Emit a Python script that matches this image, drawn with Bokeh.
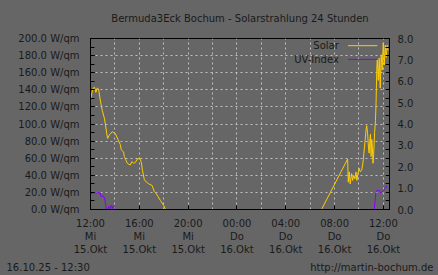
from bokeh.plotting import figure
from bokeh.layouts import column, row
from bokeh.models import Range1d, LinearAxis, FixedTicker, Label
from bokeh.core.properties import value
from bokeh.embed import file_html
from bokeh.resources import INLINE

title_text = "Bermuda3Eck Bochum - Solarstrahlung 24 Stunden"

# hours after Mi 15.Okt 12:00
solar_hours = [0.03, 0.14, 0.22, 0.33, 0.44, 0.55, 0.66, 0.80, 0.96, 1.15, 1.29, 1.40,
               1.54, 1.78, 2.03, 2.28, 2.44, 2.52, 2.71, 2.77, 3.02, 3.26, 3.39, 3.55,
               3.67, 3.84, 4.04, 4.17, 4.25, 4.41, 4.58, 4.77, 5.05, 5.23, 5.36, 5.54,
               5.73, 6.00, 6.14,
               None,
               18.93, 21.07, 21.12, 21.20, 21.28, 21.40, 21.48, 21.56, 21.67, 21.75, 21.83,
               21.94, 22.02, 22.10, 22.22, 22.30, 22.35, 22.49, 22.57, 22.63, 22.70, 22.78,
               22.83, 22.89, 22.94, 22.99, 23.04, 23.09, 23.15, 23.20, 23.28, 23.35, 23.40,
               23.46, 23.50, 23.58, 23.66, 23.74, 23.82, 23.90, 23.99, 24.07, 24.15, 24.23,
               24.31, 24.39]
solar_wqm = [130, 138, 142, 143, 137, 142, 141, 128, 116, 106, 93, 83,
             87, 91, 89, 81, 76, 70, 67, 62, 54, 52, 56, 54,
             55, 59, 60, 55, 46, 35, 32, 30, 28, 21, 19, 15,
             10.5, 4.7, 0,
             None,
             0, 59, 32, 44, 30, 42, 34, 40, 36, 44, 34,
             44, 48, 44, 46, 52, 58, 79, 92, 98, 90, 72,
             66, 80, 88, 62, 82, 74, 54, 64, 90, 104, 125,
             165, 175, 151, 177, 142, 181, 163, 195, 169, 192, 178,
             192, 186]

uv_hours = [0.03, 0.22, 0.55, 0.80, 0.84, 1.08, 1.18, 1.29, 1.41, 1.50, 1.58, 1.70,
            1.78, 1.87, 1.95,
            None,
            23.25, 23.39, 23.47, 23.64, 23.80, 23.97, 24.13, 24.30]
uv_index = [0.74, 0.78, 0.78, 0.78, 0.62, 0.62, 0.45, 0.03, 0.03, 0.15, 0.03, 0.19,
            0.05, 0.17, 0.0,
            None,
            0.0, 0.81, 0.89, 0.89, 0.77, 0.89, 0.97, 1.13]

x_ticks = [0, 4, 8, 12, 16, 20, 24]
x_tick_labels = ["12:00\nMi\n15.Okt", "16:00\nMi\n15.Okt", "20:00\nMi\n15.Okt",
                 "00:00\nDo\n16.Okt", "04:00\nDo\n16.Okt", "08:00\nDo\n16.Okt",
                 "12:00\nDo\n16.Okt"]
x_grid = [2, 4, 6, 8, 10, 12, 14, 16, 18, 20, 22, 24]
y_ticks = [0, 20, 40, 60, 80, 100, 120, 140, 160, 180, 200]
y_tick_labels = ["%.1f W/qm" % v for v in y_ticks]
y_minor = list(range(0, 201, 10))
uv_ticks = [0, 1, 2, 3, 4, 5, 6, 7, 8]
uv_tick_labels = ["%.1f" % v for v in uv_ticks]
uv_minor = [round(0.4 * i, 1) for i in range(21)]
series_names = ["Solar", "UV-Index"]
footer_left = "16.10.25 - 12:30"
footer_right = "http://martin-bochum.de"

W = 438
HEAD_H = 30
FOOT_H = 16
MAIN_H = 275 - HEAD_H - FOOT_H

BG = "#666666"
TXT = "#1a1a1a"
FONT = "DejaVu Sans"
FS = "10px"
SOLAR_C = "#ffcc00"
UV_C = "#8800ff"


def text_strip(height):
    f = figure(width=W, height=height, output_backend="svg", toolbar_location=None,
               x_range=Range1d(0, W), y_range=Range1d(0, height),
               x_axis_location=None, y_axis_location=None,
               min_border=0, min_border_left=0, min_border_right=0,
               min_border_top=0, min_border_bottom=0)
    f.grid.visible = False
    f.outline_line_color = None
    f.background_fill_color = BG
    f.border_fill_color = BG
    return f


# header with title
head = text_strip(HEAD_H)
head.text(x=[239.5], y=[HEAD_H - 18], text=[title_text], text_align="center",
          text_baseline="middle", text_font=value(FONT), text_font_size=value(FS),
          text_color=TXT)

p = figure(width=W, height=MAIN_H, output_backend="svg", toolbar_location=None,
           x_range=Range1d(0, 24.5), y_range=Range1d(0, 200))
p.extra_y_ranges = {"uv": Range1d(0, 8)}
p.min_border_left = 90
p.min_border_right = 49
p.min_border_top = 38 - HEAD_H
p.min_border_bottom = (275 - FOOT_H) - 209
p.background_fill_color = BG
p.border_fill_color = BG
p.outline_line_color = "black"
p.outline_line_width = 1

# axes
xa = p.xaxis[0]
xa.ticker = FixedTicker(ticks=x_ticks, minor_ticks=[])
xa.major_label_overrides = {t: l for t, l in zip(x_ticks, x_tick_labels)}
ya = p.yaxis[0]
ya.ticker = FixedTicker(ticks=y_ticks, minor_ticks=y_minor)
ya.major_label_overrides = {t: l for t, l in zip(y_ticks, y_tick_labels)}
ra = LinearAxis(y_range_name="uv", ticker=FixedTicker(ticks=uv_ticks, minor_ticks=uv_minor))
ra.major_label_overrides = {t: l for t, l in zip(uv_ticks, uv_tick_labels)}
p.add_layout(ra, "right")

for ax in [xa, ya, ra]:
    ax.axis_line_color = "black"
    ax.major_tick_line_color = "black"
    ax.minor_tick_line_color = "black"
    ax.major_tick_out = 0
    ax.minor_tick_out = 0
    ax.major_tick_in = 4
    ax.minor_tick_in = 4
    ax.major_label_text_font = FONT
    ax.major_label_text_font_size = FS
    ax.major_label_text_color = TXT
xa.major_label_standoff = 8
ya.major_label_standoff = 11
ra.major_label_standoff = 8
ra.major_tick_in = 0

p.xgrid.ticker = FixedTicker(ticks=x_grid)
p.ygrid.ticker = FixedTicker(ticks=y_ticks)
for g in [p.xgrid[0], p.ygrid[0]]:
    g.grid_line_color = "#c0c0c0"
    g.grid_line_dash = "2 3"
    g.grid_line_width = 1

p.line(solar_hours, solar_wqm, line_color=SOLAR_C, line_width=1)
p.line(uv_hours, uv_index, line_color=UV_C, line_width=1, y_range_name="uv")

# legend (text left, line right)
leg_text_x = 20.35
leg_x0, leg_x1 = 21.1, 23.5
leg_rows = [191.6, 175.6]
for name, col, yy in zip(series_names, [SOLAR_C, UV_C], leg_rows):
    p.add_layout(Label(x=leg_text_x, y=yy, text=name, text_align="right",
                       text_baseline="middle", text_font=FONT, text_font_size=FS,
                       text_color=TXT))
    p.segment(x0=[leg_x0], y0=[yy], x1=[leg_x1], y1=[yy], line_color=col, line_width=1)

# footer
foot = text_strip(FOOT_H)
foot.text(x=[6], y=[FOOT_H - 8], text=[footer_left], text_align="left",
          text_baseline="middle", text_font=value(FONT), text_font_size=value(FS),
          text_color=TXT)
foot.text(x=[433], y=[FOOT_H - 8], text=[footer_right], text_align="right",
          text_baseline="middle", text_font=value(FONT), text_font_size=value(FS),
          text_color=TXT)

bg_style = {"background-color": BG}
layout = column(row(head, spacing=0, styles=bg_style), p,
                row(foot, spacing=0, styles=bg_style),
                spacing=0, styles=bg_style)
html = file_html(layout, INLINE)
html = html.replace("<head>", "<head><style>html,body{margin:0;background:%s;}</style>" % BG, 1)
open("out.html", "w").write(html)
